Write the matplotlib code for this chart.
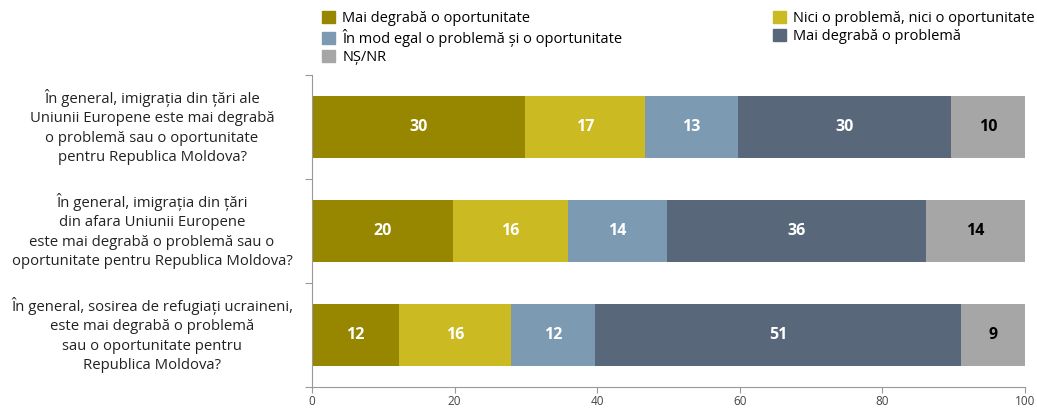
import numpy as np
import matplotlib.pyplot as plt
from matplotlib.patches import Patch

plt.rcParams['font.family'] = ['Open Sans', 'DejaVu Sans']

questions = [
    "În general, imigrația din țări ale\nUniunii Europene este mai degrabă\no problemă sau o oportunitate\npentru Republica Moldova?",
    "În general, imigrația din țări\ndin afara Uniunii Europene\neste mai degrabă o problemă sau o\noportunitate pentru Republica Moldova?",
    "În general, sosirea de refugiați ucraineni,\neste mai degrabă o problemă\nsau o oportunitate pentru\nRepublica Moldova?",
]
series = [
    "Mai degrabă o oportunitate",
    "Nici o problemă, nici o oportunitate",
    "În mod egal o problemă și o oportunitate",
    "Mai degrabă o problemă",
    "NȘ/NR",
]
oportunitate = [29.9, 19.8, 12.2]
nici = [16.8, 16.1, 15.7]
egal = [13.0, 13.9, 11.8]
problema = [29.9, 36.3, 51.3]
nsnr = [10.4, 13.9, 9.0]
colors = ['#968600', '#CCBA22', '#7C9AB1', '#58687A', '#A6A6A6']
text_colors = ['white', 'white', 'white', 'white', 'black']

values = [oportunitate, nici, egal, problema, nsnr]

fig = plt.figure(figsize=(10.37, 4.08), dpi=100)
ax = fig.add_axes([312/1037, 1 - 387/408, 713/1037, 312/408])

y = np.arange(len(questions))
left = np.zeros(len(questions))
for vals, col, tc in zip(values, colors, text_colors):
    vals = np.array(vals)
    ax.barh(y, vals, left=left, height=0.59, color=col)
    for yi, l, v in zip(y, left, vals):
        ax.text(l + v / 2, yi, f"{v:.0f}", ha='center', va='center',
                color=tc, fontsize=11.5, fontweight='bold')
    left += vals

ax.set_xlim(0, 100)
ax.set_ylim(2.5, -0.5)
ax.set_xticks(range(0, 101, 20))
ax.tick_params(axis='x', colors='#444444', labelsize=8.5, length=4, pad=1.5,
               color='#999999')
ax.set_yticks([-0.5, 0.5, 1.5, 2.5])
ax.set_yticklabels([])
ax.tick_params(axis='y', length=5, color='#999999')
for i, q in enumerate(questions):
    # question text centred about 160 px left of the axis
    ax.annotate(q, xy=(0, i), xycoords=('axes fraction', 'data'),
                xytext=(-160 * 72 / 100, 0), textcoords='offset points',
                ha='center', va='center', fontsize=10.7, color='#222222',
                linespacing=1.42)
for s in ['top', 'right']:
    ax.spines[s].set_visible(False)
for s in ['left', 'bottom']:
    ax.spines[s].set_color('#999999')

handles = [Patch(color=c) for c in colors]
order = [0, 2, 4, 1, 3]
fig.legend([handles[i] for i in order], [series[i] for i in order],
           ncol=2, loc='upper left', bbox_to_anchor=(311/1037, 1.0),
           frameon=False, fontsize=10.5, handlelength=0.9, handleheight=0.9,
           handletextpad=0.5, labelspacing=0.2, columnspacing=10.3,
           borderaxespad=0.35)

fig.savefig('out.png', dpi=100)
